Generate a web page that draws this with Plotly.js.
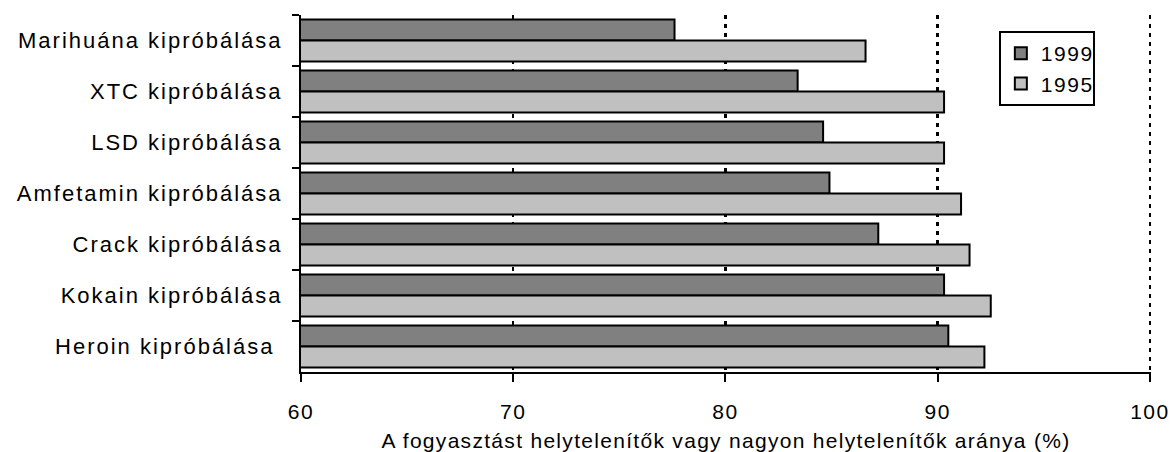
<!DOCTYPE html>
<html>
<head>
<meta charset="utf-8">
<script src="https://cdn.plot.ly/plotly-3.0.1.min.js"></script>
<style>
html,body{margin:0;padding:0;background:#fff;}
#chart{width:1173px;height:452px;}
#chart .ytick text{letter-spacing:2px;}
#chart .xtick text{letter-spacing:1.5px;}
#chart .xtitle{letter-spacing:1.3px;}
#chart .legendtext{letter-spacing:1.5px;}
</style>
</head>
<body>
<div id="chart"></div>
<script>
const categories = [
  "Marihuána kipróbálása",
  "XTC kipróbálása",
  "LSD kipróbálása",
  "Amfetamin kipróbálása",
  "Crack kipróbálása",
  "Kokain kipróbálása",
  "Heroin kipróbálása\u00a0"
];
const values1999 = [77.6, 83.4, 84.6, 84.9, 87.2, 90.3, 90.5];
const values1995 = [86.6, 90.3, 90.3, 91.1, 91.5, 92.5, 92.2];
const xTickVals = [60, 70, 80, 90, 100];

const font = "Liberation Sans, Arial, sans-serif";
const traces = [
  {type: "bar", orientation: "h", name: "1999", y: categories, x: values1999,
   marker: {color: "#808080", line: {color: "#000", width: 2}}},
  {type: "bar", orientation: "h", name: "1995", y: categories, x: values1995,
   marker: {color: "#C0C0C0", line: {color: "#000", width: 2}}}
];
const layout = {
  width: 1173, height: 452,
  margin: {l: 301, r: 22, t: 15, b: 80},
  paper_bgcolor: "#fff", plot_bgcolor: "#fff",
  font: {family: font, color: "#000", size: 21},
  barmode: "group", bargap: 0.18, bargroupgap: 0,
  showlegend: true,
  legend: {x: 0.821, y: 0.955, xanchor: "left", yanchor: "top",
    bgcolor: "#fff", bordercolor: "#000", borderwidth: 2,
    entrywidth: 120, entrywidthmode: "pixels",
    font: {family: font, size: 21, color: "#000"}, tracegroupgap: 0},
  xaxis: {range: [60, 100.05], tickvals: xTickVals, ticktext: xTickVals.map(String),
    showline: true, linecolor: "#000", linewidth: 2,
    ticks: "outside", ticklen: 8, tickwidth: 2, tickcolor: "#000",
    showgrid: true, gridcolor: "#000", gridwidth: 2.5, griddash: "4px,5px",
    zeroline: false, tickfont: {size: 21, family: font}, ticklabelstandoff: 12,
    title: {text: "A fogyasztást helytelenítők vagy nagyon helytelenítők aránya (%)",
      font: {size: 21, family: font}, standoff: 12}},
  yaxis: {type: "category", autorange: "reversed",
    showline: true, linecolor: "#000", linewidth: 2,
    ticks: "outside", tickson: "boundaries", ticklen: 7, tickwidth: 2, tickcolor: "#000",
    showgrid: false, zeroline: false, ticklabelstandoff: 12,
    tickfont: {size: 22, family: font}}
};
Plotly.newPlot("chart", traces, layout, {staticPlot: true, displayModeBar: false});
</script>
</body>
</html>
